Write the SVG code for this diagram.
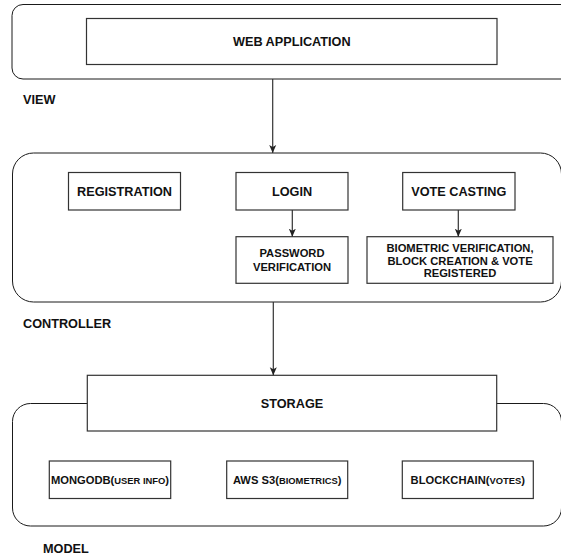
<svg xmlns="http://www.w3.org/2000/svg" width="561" height="556" viewBox="0 0 561 556">
<style>
.bg{fill:#fff}
.cont{fill:#fff;stroke:#1a1a1a;stroke-width:1}
.box{fill:#fff;stroke:#333;stroke-width:1.2}
.t{font-family:"Liberation Sans",Arial,sans-serif;font-weight:bold;fill:#111;text-anchor:middle}
.big{font-size:12.7px}
.sm{font-size:11.2px}
.sc{font-size:9.4px}
.lbl{font-family:"Liberation Sans",Arial,sans-serif;font-weight:bold;fill:#111;font-size:12.7px}
.edge{fill:none;stroke:#333;stroke-width:1.2}
</style>
<defs>
<marker id="arr" viewBox="0 0 8 8" refX="8" refY="4" markerWidth="8" markerHeight="8" markerUnits="userSpaceOnUse" orient="auto">
<path d="M0,0.5 L8,4 L0,7.5 L2,4 z" fill="#222"/>
</marker>
</defs>
<rect class="bg" x="0" y="0" width="561" height="556"/>

<g id="view-layer">
<rect class="cont" x="12" y="4.5" width="566" height="74.5" rx="11" ry="11"/>
<text class="lbl" x="23" y="104">VIEW</text>
</g>
<g id="controller-layer">
<rect class="cont" x="12.5" y="153" width="549" height="149" rx="21" ry="21"/>
<text class="lbl" x="23" y="327.5">CONTROLLER</text>
</g>
<g id="model-layer">
<rect class="cont" x="12.5" y="403.5" width="549" height="122.5" rx="18" ry="18"/>
<text class="lbl" x="43" y="553">MODEL</text>
</g>

<g id="web-application">
<rect class="box" x="86.5" y="18.5" width="410.5" height="46"/>
<text class="t big" x="291.8" y="46">WEB APPLICATION</text>
</g>
<g id="registration">
<rect class="box" x="68.5" y="172.5" width="112" height="37.5"/>
<text class="t big" x="124.5" y="196">REGISTRATION</text>
</g>
<g id="login">
<rect class="box" x="236" y="172.5" width="112" height="37.5"/>
<text class="t big" x="292" y="196">LOGIN</text>
</g>
<g id="vote-casting">
<rect class="box" x="402.7" y="172.5" width="112.3" height="37.5"/>
<text class="t big" x="458.8" y="196">VOTE CASTING</text>
</g>
<g id="password-verification">
<rect class="box" x="236" y="236.7" width="112" height="46.6"/>
<text class="t sm" x="292" y="256.5">PASSWORD</text>
<text class="t sm" x="292" y="270.5">VERIFICATION</text>
</g>
<g id="biometric-verification">
<rect class="box" x="367" y="236.7" width="186" height="46.6"/>
<text class="t sm" x="460" y="252.3">BIOMETRIC VERIFICATION,</text>
<text class="t sm" x="460" y="264.8">BLOCK CREATION &amp; VOTE</text>
<text class="t sm" x="460" y="277.3">REGISTERED</text>
</g>
<g id="storage">
<rect class="box" x="87.3" y="375.3" width="409.4" height="55.7"/>
<text class="t big" x="292" y="407.5">STORAGE</text>
</g>
<g id="mongodb">
<rect class="box" x="49.3" y="461" width="121.4" height="37.5"/>
<text class="t sm" x="110" y="483.5">MONGODB(<tspan class="sc">USER INFO</tspan>)</text>
</g>
<g id="aws-s3">
<rect class="box" x="226.7" y="461" width="121" height="37.5"/>
<text class="t sm" x="287.2" y="483.5">AWS S3(<tspan class="sc">BIOMETRICS</tspan>)</text>
</g>
<g id="blockchain">
<rect class="box" x="402.3" y="461" width="131" height="37.5"/>
<text class="t sm" x="467.8" y="483.5">BLOCKCHAIN(<tspan class="sc">VOTES</tspan>)</text>
</g>

<g id="connectors">
<line class="edge" x1="272.7" y1="79" x2="272.7" y2="153" marker-end="url(#arr)"/>
<line class="edge" x1="292.3" y1="210" x2="292.3" y2="236.7" marker-end="url(#arr)"/>
<line class="edge" x1="458.3" y1="210" x2="458.3" y2="236.7" marker-end="url(#arr)"/>
<line class="edge" x1="273.3" y1="302" x2="273.3" y2="375.3" marker-end="url(#arr)"/>
</g>
</svg>
